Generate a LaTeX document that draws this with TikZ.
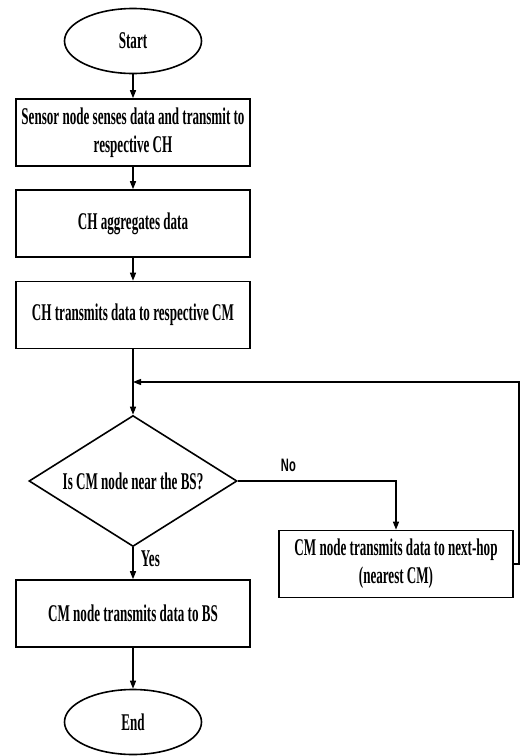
\documentclass[tikz,border=0pt]{standalone}
\usepackage{fontspec}
\setmainfont{Liberation Serif}[FakeStretch=0.545]
\newfontfamily\labelfont{Liberation Sans}[FakeStretch=0.62]
\usetikzlibrary{arrows.meta,shapes.geometric}

\begin{document}
\begin{tikzpicture}[
	x=1pt, y=-1pt,
	every node/.style={font=\fontsize{24}{28}\selectfont\bfseries},
	terminal/.style={ellipse, draw, line width=1.6pt, minimum width=137pt, minimum height=65pt, inner sep=0pt},
	process/.style={rectangle, draw, line width=1.6pt, minimum width=234pt, minimum height=67pt, align=center, inner sep=0pt},
	decision/.style={diamond, draw, line width=1.6pt, shape aspect=1.6, minimum width=208pt, minimum height=131pt, inner sep=0pt},
	flow/.style={line width=1.3pt, -{Triangle[length=8pt,width=6pt]}},
	answer/.style={font=\fontsize{18}{20}\labelfont\bfseries},
	line join=miter
	]
	
	\useasboundingbox (0,0) rectangle (532,756);
	
	% Main column
	\node[terminal] (start) at (133,41) {Start};
	\node[process] (sense) at (133,132.5) {Sensor node senses data and transmit to\\respective CH};
	\node[process] (aggr) at (133,223.5) {CH aggregates data};
	\node[process] (tocm) at (133,315) {CH transmits data to respective CM};
	\node[decision] (near) at (133,481) {Is CM node near the BS?};
	\node[process] (tobs) at (133,613.5) {CM node transmits data to BS};
	\node[terminal] (stop) at (133,722) {End};
	
	% Side branch
	\node[process] (nexthop) at (396,564) {CM node transmits data to next-hop\\(nearest CM)};
	\coordinate (merge) at (133,382);
	\coordinate (loopcorner) at (519,382);
	
	% Arrows
	\draw[flow] (start) -- (sense);
	\draw[flow] (sense) -- (aggr);
	\draw[flow] (aggr) -- (tocm);
	\draw[flow] (tocm) -- (near);
	\draw[flow] (near.east) -| node[answer, pos=0.16, above=5pt] {No} (nexthop.north);
	\draw[flow] (near) -- node[right=4pt, pos=0.35] {Yes} (tobs);
	\draw[flow] (nexthop.east) -- (nexthop.east -| loopcorner) -- (loopcorner) -- (merge);
	\draw[flow] (tobs) -- (stop);
	
\end{tikzpicture}
\end{document}
